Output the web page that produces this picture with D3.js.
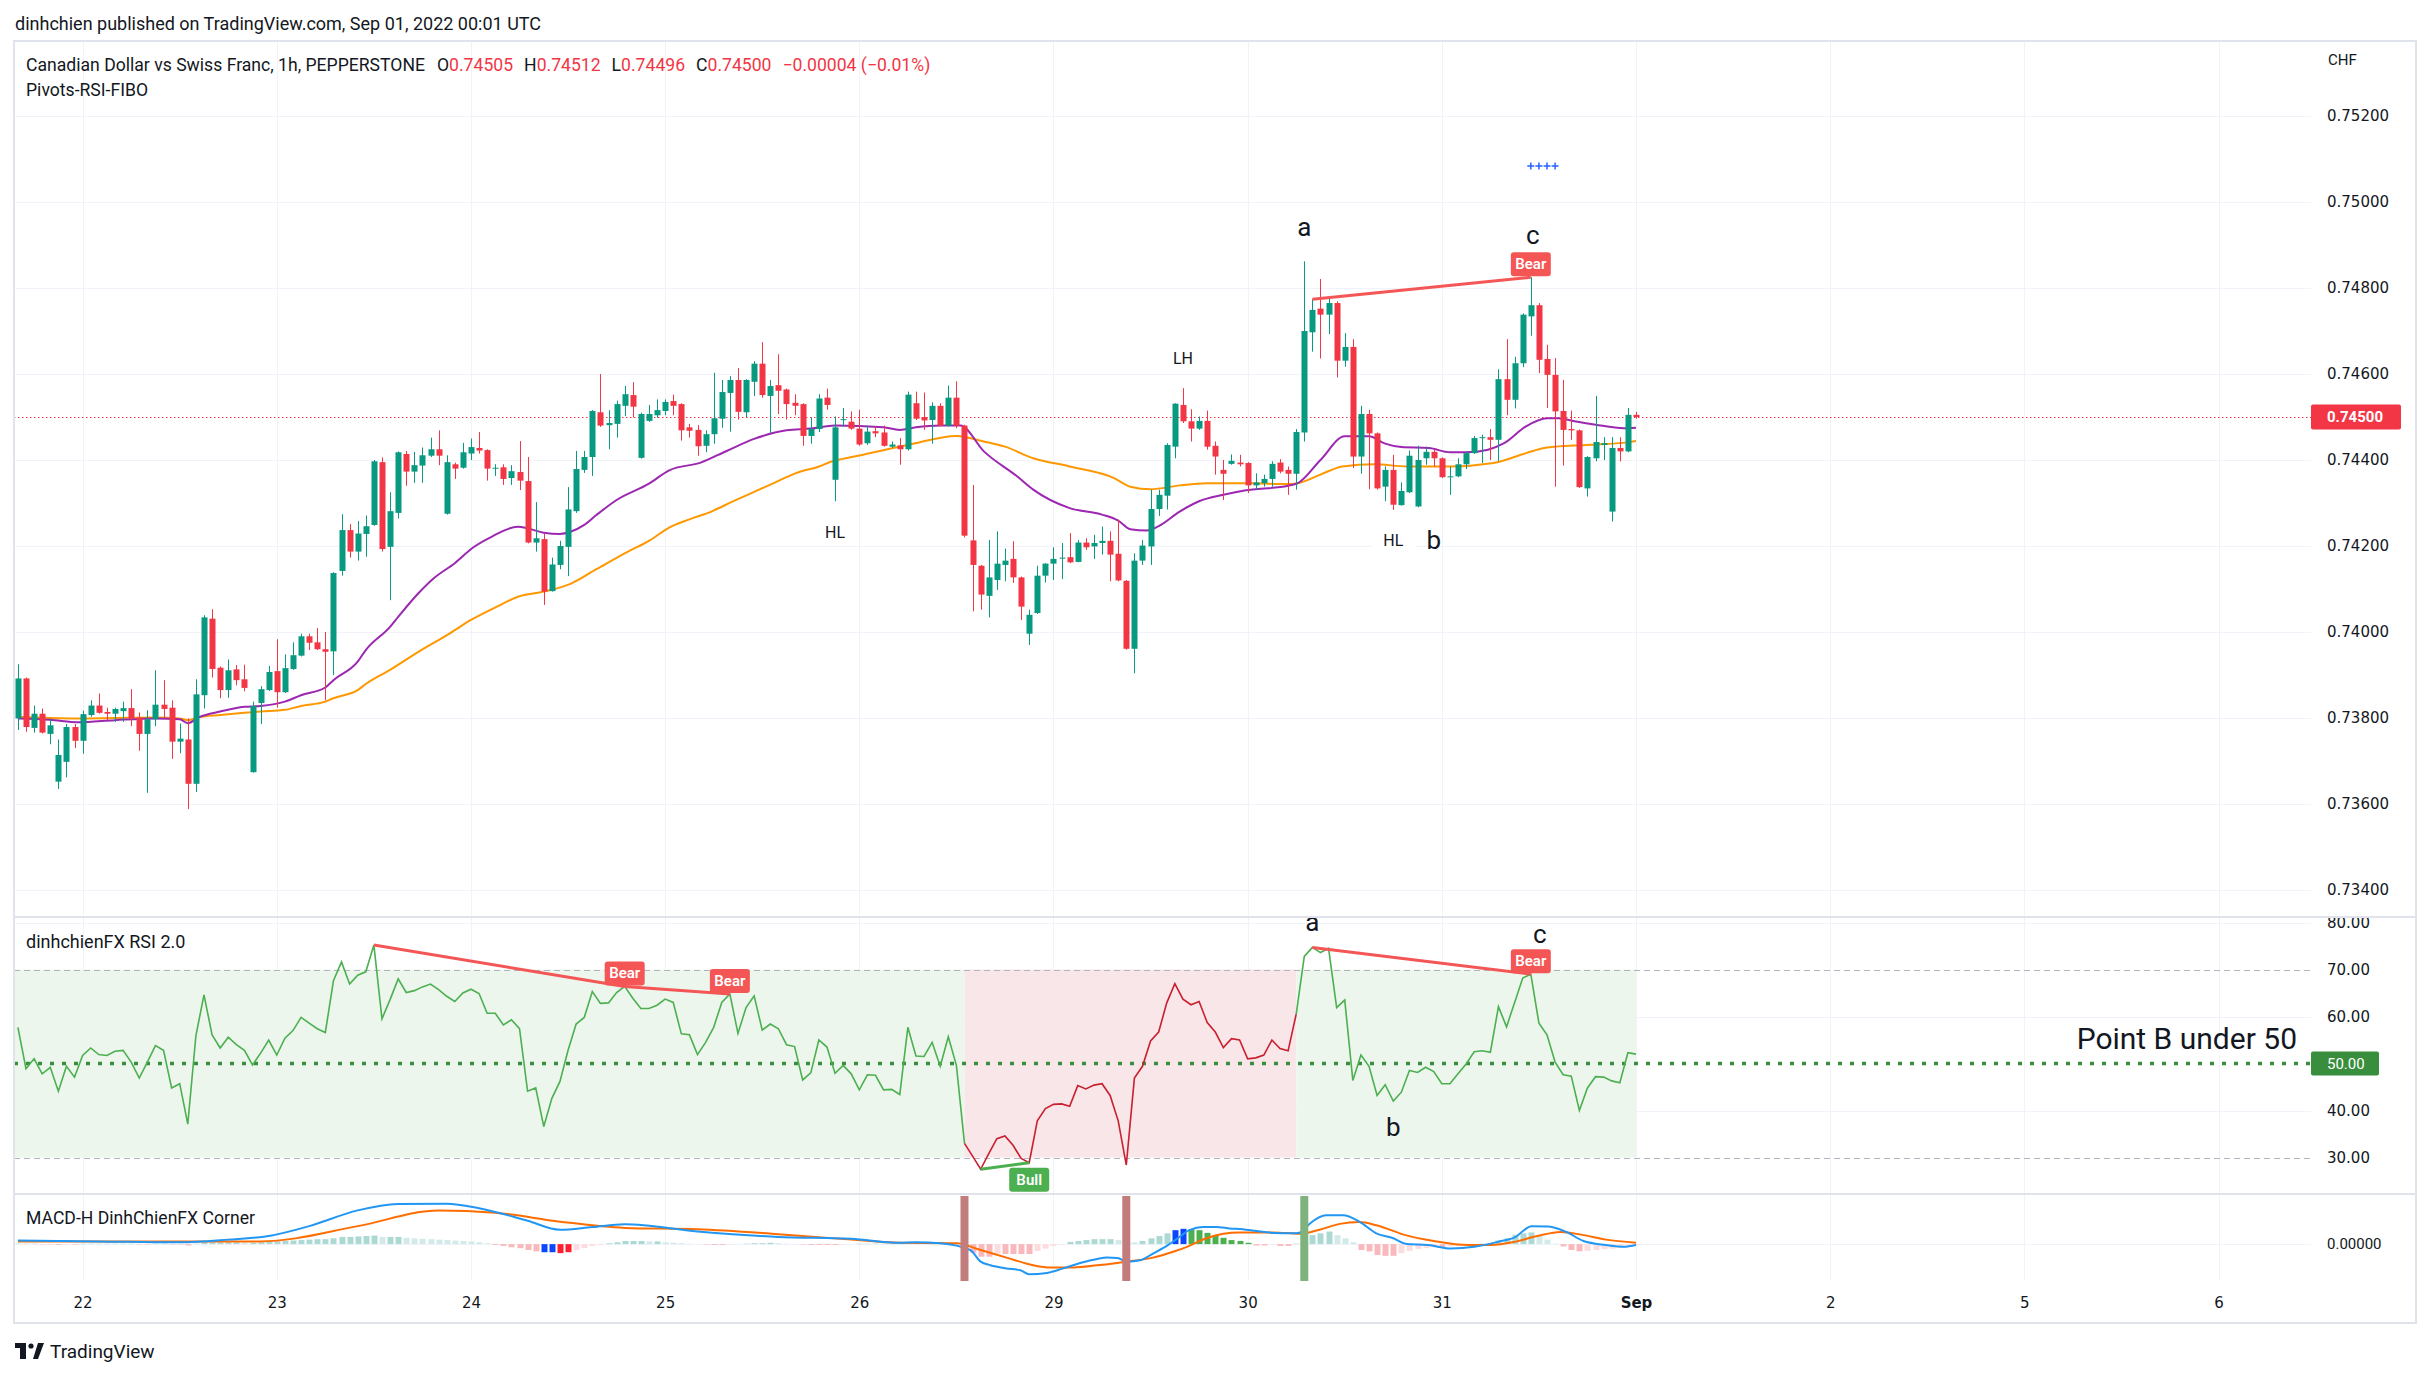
<!DOCTYPE html>
<html>
<head>
<meta charset="utf-8">
<title>CADCHF 1h</title>
<script src="https://cdnjs.cloudflare.com/ajax/libs/d3/7.8.5/d3.min.js"></script>
<style>
  body { margin: 0; background: #fff; }
  text { font-family: Roboto, "Liberation Sans", Arial, sans-serif; fill: #131722; }
  .axis text { font-family: "DejaVu Sans", sans-serif; font-size: 15px; fill: #131722; }
</style>
</head>
<body>
<svg id="chart" width="2432" height="1378"></svg>
<script>
// ---------- data (bar index 0 = first visible hourly bar, 200 = Sep 01 00:00) ----------
// [open, high, low, close]
const ohlc = [
[0.73799,0.73925,0.73772,0.73892],[0.73892,0.73894,0.73768,0.73779],[0.73777,0.73829,0.73766,0.73810],[0.73810,0.73822,0.73764,0.73766],
[0.73763,0.73799,0.73739,0.73783],[0.73652,0.73750,0.73635,0.73714],[0.73698,0.73786,0.73662,0.73779],[0.73779,0.73786,0.73730,0.73747],
[0.73747,0.73817,0.73717,0.73809],[0.73807,0.73841,0.73803,0.73829],[0.73829,0.73857,0.73810,0.73812],[0.73814,0.73824,0.73795,0.73810],
[0.73810,0.73824,0.73791,0.73821],[0.73816,0.73838,0.73791,0.73823],[0.73823,0.73867,0.73781,0.73799],[0.73801,0.73813,0.73724,0.73763],
[0.73763,0.73818,0.73626,0.73797],[0.73797,0.73911,0.73781,0.73831],[0.73831,0.73888,0.73799,0.73821],[0.73824,0.73841,0.73705,0.73745],
[0.73745,0.73787,0.73718,0.73752],[0.73750,0.73799,0.73588,0.73647],[0.73647,0.73890,0.73628,0.73855],[0.73853,0.74039,0.73822,0.74034],
[0.74031,0.74053,0.73894,0.73914],[0.73917,0.73920,0.73846,0.73865],[0.73865,0.73936,0.73847,0.73911],[0.73913,0.73923,0.73876,0.73888],
[0.73890,0.73924,0.73862,0.73870],[0.73674,0.73838,0.73673,0.73828],[0.73835,0.73874,0.73786,0.73867],[0.73865,0.73921,0.73863,0.73907],
[0.73909,0.73983,0.73824,0.73860],[0.73860,0.73948,0.73858,0.73916],[0.73914,0.73976,0.73912,0.73946],[0.73945,0.73996,0.73943,0.73990],
[0.73990,0.73996,0.73958,0.73975],[0.73976,0.74009,0.73958,0.73960],[0.73960,0.74000,0.73841,0.73954],[0.73955,0.74139,0.73900,0.74137],
[0.74142,0.74274,0.74131,0.74237],[0.74237,0.74251,0.74173,0.74187],[0.74187,0.74258,0.74166,0.74229],[0.74228,0.74271,0.74175,0.74246],
[0.74249,0.74400,0.74247,0.74397],[0.74395,0.74406,0.74187,0.74193],[0.74198,0.74325,0.74074,0.74281],[0.74277,0.74420,0.74264,0.74418],
[0.74414,0.74421,0.74340,0.74373],[0.74373,0.74419,0.74347,0.74388],[0.74387,0.74429,0.74347,0.74411],[0.74410,0.74452,0.74407,0.74425],
[0.74425,0.74469,0.74388,0.74410],[0.74275,0.74411,0.74273,0.74395],[0.74390,0.74394,0.74356,0.74380],[0.74382,0.74440,0.74380,0.74418],
[0.74415,0.74450,0.74400,0.74430],[0.74428,0.74465,0.74415,0.74422],[0.74423,0.74425,0.74352,0.74380],[0.74380,0.74390,0.74363,0.74382],
[0.74383,0.74390,0.74342,0.74356],[0.74358,0.74388,0.74342,0.74374],[0.74372,0.74444,0.74330,0.74352],[0.74351,0.74407,0.74206,0.74208],
[0.74208,0.74302,0.74187,0.74218],[0.74216,0.74228,0.74063,0.74094],[0.74095,0.74173,0.74094,0.74157],[0.74156,0.74212,0.74146,0.74200],
[0.74198,0.74337,0.74130,0.74285],[0.74281,0.74421,0.74277,0.74379],[0.74377,0.74421,0.74370,0.74407],[0.74407,0.74516,0.74363,0.74514],
[0.74511,0.74600,0.74477,0.74480],[0.74481,0.74516,0.74425,0.74486],[0.74484,0.74538,0.74452,0.74530],[0.74526,0.74572,0.74502,0.74553],
[0.74551,0.74581,0.74499,0.74524],[0.74405,0.74510,0.74403,0.74507],[0.74491,0.74528,0.74489,0.74507],[0.74504,0.74541,0.74498,0.74516],
[0.74514,0.74541,0.74504,0.74535],[0.74537,0.74552,0.74504,0.74526],[0.74530,0.74532,0.74445,0.74469],[0.74476,0.74484,0.74452,0.74468],
[0.74470,0.74481,0.74410,0.74432],[0.74433,0.74469,0.74418,0.74460],[0.74460,0.74603,0.74438,0.74497],[0.74496,0.74586,0.74475,0.74558],
[0.74556,0.74595,0.74466,0.74586],[0.74586,0.74614,0.74494,0.74512],[0.74511,0.74588,0.74500,0.74586],[0.74582,0.74630,0.74549,0.74624],
[0.74624,0.74674,0.74545,0.74551],[0.74549,0.74586,0.74463,0.74572],[0.74574,0.74646,0.74507,0.74561],[0.74564,0.74566,0.74494,0.74530],
[0.74533,0.74553,0.74504,0.74526],[0.74530,0.74532,0.74433,0.74456],[0.74456,0.74499,0.74438,0.74472],[0.74472,0.74553,0.74465,0.74543],
[0.74545,0.74566,0.74517,0.74528],[0.74354,0.74501,0.74304,0.74476],[0.74493,0.74521,0.74478,0.74495],[0.74489,0.74513,0.74470,0.74473],
[0.74473,0.74517,0.74433,0.74436],[0.74439,0.74480,0.74435,0.74466],[0.74467,0.74478,0.74453,0.74462],[0.74464,0.74480,0.74431,0.74433],
[0.74431,0.74443,0.74428,0.74436],[0.74434,0.74451,0.74389,0.74425],[0.74425,0.74559,0.74422,0.74552],[0.74532,0.74559,0.74493,0.74496],
[0.74500,0.74557,0.74470,0.74492],[0.74493,0.74534,0.74438,0.74526],[0.74526,0.74532,0.74478,0.74480],[0.74480,0.74573,0.74478,0.74545],
[0.74545,0.74583,0.74474,0.74480],[0.74480,0.74482,0.74220,0.74224],[0.74213,0.74342,0.74048,0.74156],[0.74154,0.74156,0.74052,0.74087],
[0.74084,0.74214,0.74034,0.74127],[0.74121,0.74234,0.74098,0.74159],[0.74156,0.74194,0.74118,0.74166],[0.74170,0.74211,0.74114,0.74127],
[0.74127,0.74129,0.74028,0.74059],[0.73996,0.74052,0.73970,0.74040],[0.74044,0.74154,0.74042,0.74131],[0.74131,0.74160,0.74115,0.74159],
[0.74159,0.74197,0.74121,0.74170],[0.74171,0.74207,0.74123,0.74173],[0.74174,0.74230,0.74160,0.74162],[0.74163,0.74214,0.74162,0.74208],
[0.74208,0.74218,0.74191,0.74197],[0.74199,0.74226,0.74170,0.74207],[0.74207,0.74245,0.74180,0.74212],[0.74212,0.74234,0.74118,0.74180],
[0.74182,0.74261,0.74118,0.74120],[0.74119,0.74121,0.73959,0.73961],[0.73961,0.74183,0.73904,0.74166],[0.74166,0.74214,0.74156,0.74201],
[0.74199,0.74331,0.74156,0.74286],[0.74286,0.74331,0.74270,0.74319],[0.74317,0.74439,0.74285,0.74435],[0.74431,0.74532,0.74404,0.74531],
[0.74528,0.74567,0.74486,0.74490],[0.74490,0.74518,0.74443,0.74473],[0.74473,0.74501,0.74470,0.74491],[0.74491,0.74515,0.74424,0.74431],
[0.74433,0.74443,0.74366,0.74408],[0.74377,0.74400,0.74307,0.74368],[0.74391,0.74413,0.74389,0.74398],[0.74394,0.74412,0.74385,0.74390],
[0.74393,0.74395,0.74323,0.74341],[0.74341,0.74369,0.74331,0.74348],[0.74346,0.74366,0.74338,0.74356],[0.74356,0.74397,0.74338,0.74391],
[0.74394,0.74402,0.74369,0.74373],[0.74377,0.74385,0.74319,0.74368],[0.74368,0.74472,0.74331,0.74465],[0.74464,0.74862,0.74443,0.74700],
[0.74697,0.74774,0.74652,0.74749],[0.74752,0.74821,0.74636,0.74738],[0.74738,0.74776,0.74693,0.74765],[0.74765,0.74769,0.74592,0.74631],
[0.74631,0.74695,0.74617,0.74663],[0.74663,0.74681,0.74381,0.74408],[0.74408,0.74526,0.74368,0.74507],[0.74507,0.74517,0.74332,0.74462],
[0.74462,0.74464,0.74331,0.74334],[0.74338,0.74385,0.74304,0.74377],[0.74377,0.74412,0.74284,0.74296],[0.74295,0.74348,0.74294,0.74328],
[0.74325,0.74422,0.74323,0.74410],[0.74292,0.74433,0.74290,0.74400],[0.74404,0.74431,0.74389,0.74419],[0.74419,0.74425,0.74385,0.74404],
[0.74404,0.74406,0.74358,0.74360],[0.74360,0.74385,0.74319,0.74362],[0.74362,0.74404,0.74360,0.74390],[0.74390,0.74420,0.74379,0.74416],
[0.74416,0.74456,0.74414,0.74451],[0.74451,0.74459,0.74393,0.74453],[0.74453,0.74472,0.74400,0.74447],[0.74447,0.74611,0.74397,0.74588],
[0.74588,0.74681,0.74504,0.74540],[0.74540,0.74640,0.74520,0.74625],[0.74625,0.74741,0.74616,0.74738],[0.74734,0.74825,0.74689,0.74760],
[0.74760,0.74765,0.74602,0.74633],[0.74635,0.74668,0.74521,0.74598],[0.74598,0.74637,0.74338,0.74513],[0.74514,0.74586,0.74387,0.74470],
[0.74472,0.74515,0.74447,0.74469],[0.74469,0.74471,0.74335,0.74337],[0.74334,0.74409,0.74315,0.74407],[0.74404,0.74549,0.74397,0.74442],
[0.74435,0.74453,0.74400,0.74439],[0.74280,0.74453,0.74257,0.74428],[0.74428,0.74453,0.74397,0.74420],[0.74420,0.74521,0.74418,0.74505],
[0.74505,0.74512,0.74496,0.74500]
];

// moving averages: [bar, price]
const emaFast = [[0,0.73799],[4,0.73796],[7.5,0.73790],[12,0.73795],[17,0.73799],[20,0.73797],[21,0.73788],[22.4,0.73802],[25,0.73815],[28,0.73826],[30,0.73828],[33,0.73838],[35,0.73853],[38,0.73871],[39,0.73888],[42,0.73931],[43,0.73958],[46,0.74012],[47,0.74035],[49.5,0.74090],[51.4,0.74125],[54,0.74160],[56.3,0.74197],[58.6,0.74222],[61.8,0.74245],[63,0.74241],[65,0.74231],[67,0.74228],[68.3,0.74233],[70,0.74249],[71.5,0.74272],[74,0.74307],[78,0.74345],[80.5,0.74376],[84.4,0.74394],[87.6,0.74421],[91,0.74449],[95,0.74469],[98,0.74473],[101,0.74480],[107,0.74476],[109,0.74470],[111,0.74476],[114,0.74480],[116.5,0.74480],[119.4,0.74420],[123.5,0.74362],[125.5,0.74331],[130,0.74288],[134,0.74273],[136,0.74259],[137.5,0.74239],[139.5,0.74236],[141,0.74246],[143.6,0.74280],[146,0.74304],[149,0.74319],[151.6,0.74329],[157,0.74340],[158.2,0.74346],[161,0.74400],[164,0.74455],[167,0.74455],[169,0.74438],[171,0.74430],[174.4,0.74428],[177,0.74418],[179,0.74418],[181.7,0.74424],[183.7,0.74439],[186.4,0.74478],[189,0.74497],[190.4,0.74497],[192.4,0.74490],[195,0.74482],[198.5,0.74474],[200,0.74475]];
const emaSlow = [[0,0.73803],[4,0.73800],[7.5,0.73799],[12,0.73800],[17,0.73801],[20,0.73799],[21,0.73795],[22.4,0.73802],[25,0.73807],[28,0.73812],[30,0.73815],[33,0.73819],[35,0.73828],[38,0.73838],[39,0.73846],[42,0.73865],[43,0.73879],[46,0.73912],[49.5,0.73954],[53.4,0.73997],[56,0.74028],[59.2,0.74059],[61.8,0.74082],[65,0.74094],[68.3,0.74112],[71.5,0.74146],[75.4,0.74187],[78,0.74212],[80.5,0.74243],[83,0.74262],[85.7,0.74280],[88.3,0.74303],[91,0.74326],[93.5,0.74347],[96.1,0.74369],[99,0.74385],[100.7,0.74397],[103.4,0.74408],[110,0.74435],[116,0.74456],[119.4,0.74443],[122,0.74431],[125.5,0.74404],[130,0.74385],[135.5,0.74358],[137.5,0.74338],[140,0.74332],[143.6,0.74341],[147,0.74346],[152,0.74346],[157,0.74344],[158.2,0.74346],[161,0.74366],[163.7,0.74385],[167.7,0.74390],[171.7,0.74385],[177,0.74385],[182.4,0.74393],[186.4,0.74416],[189,0.74429],[193.8,0.74435],[199,0.74441],[200,0.74444]];

// RSI, one value per bar
const rsi = [57.7,48.9,51.0,47.8,49.2,44.1,49.4,47.1,51.7,53.3,
51.9,51.7,52.6,52.8,50.3,46.9,50.3,53.8,52.8,44.8,
45.7,37.1,55.9,64.6,56.1,53.3,55.6,54.0,52.8,49.7,
52.2,55.0,51.8,55.4,57.0,59.8,58.6,57.4,56.6,67.6,
71.6,66.9,68.8,69.5,75.2,59.5,63.6,68.0,65.1,65.5,
66.3,66.9,65.7,64.3,63.2,65.0,65.8,64.9,60.7,60.7,
58.2,59.3,57.4,44.1,44.8,36.6,42.6,46.2,52.8,58.4,
59.8,65.3,62.8,62.9,65.1,66.4,63.9,61.7,61.7,62.4,
63.7,63.0,56.3,56.1,51.9,54.5,57.7,63.0,64.8,56.4,
61.9,64.4,57.1,58.4,57.4,54.0,53.6,46.5,48.0,55.0,
53.5,47.9,49.6,47.8,44.4,47.6,47.5,44.4,44.5,43.4,
57.7,51.6,51.5,54.5,49.4,55.7,49.6,33.0,30.3,27.5,
30.8,34.0,34.6,32.6,29.8,28.9,37.8,40.4,41.3,41.4,
40.9,45.3,44.6,45.4,45.7,43.2,37.8,28.4,46.9,49.4,
54.8,56.7,62.9,67.0,63.7,62.5,63.2,58.7,56.7,53.4,
55.3,55.0,51.0,51.2,51.8,55.0,53.2,52.7,60.5,72.8,
74.7,73.6,74.5,61.9,63.5,46.4,51.8,49.4,43.2,45.5,
42.0,43.9,48.5,48.1,49.2,48.3,45.7,45.7,47.8,49.9,
52.5,52.7,52.4,62.1,57.8,63.0,68.2,69.0,58.6,56.1,
50.3,47.6,47.3,40.0,44.8,47.2,47.1,46.3,45.9,52.3,
52.0];
// RSI regimes: [fromBar, toBar, kind]
const rsiZones = [[-0.5, 117, "bull"], [117, 158, "bear"], [158, 200, "bull"]];
// divergences: [fromBar, toBar, kind]
const rsiDivergences = [[44, 75, "Bear"], [75, 88, "Bear"], [119, 125, "Bull"], [160, 187, "Bear"]];
const priceDivergences = [[160, 187, "Bear"]];

// MACD in units of 1e-5: [bar, value]
const macdLine = [[0,8],[10,6],[20,4],[26,10],[31,18],[36,40],[42,75],[47,89],[53,90],[57,80],[63,52],[67,32],[71,38],[75,44],[84,28],[94,16],[103,12],[109,3],[111,4],[114,2],[117.7,-13],[119,-39],[120.2,-47],[122.2,-54],[123.9,-58],[125,-67],[127.2,-64],[129.2,-54],[131.3,-42],[133.4,-33],[134.6,-30],[135.9,-31],[137.1,-39],[138.7,-36],[140.3,-21],[142,-4],[143.2,11],[144.8,31],[146.5,38],[148.1,38],[149.8,35],[151.4,33],[153.1,29],[155.2,25],[157.6,24],[158.5,26],[159.7,46],[161.7,64],[163.8,64],[165.8,50],[167.9,24],[170,13],[171.5,1],[174.3,-2],[177.2,-10],[180,-6],[182.9,5],[185,15],[187.1,40],[189.2,39],[191.4,27],[193.5,7],[196.3,-2],[198.5,-6],[200,-2]];
const signalLine = [[0,6],[20,6],[30,6],[42,40],[52,75],[59,70],[67,50],[75,36],[84,33],[94,22],[103,10],[109,3],[116,2],[119,-13],[122.2,-30],[125.5,-47],[127.6,-52],[130.5,-52],[133.4,-47],[137.1,-39],[140.3,-30],[142.8,-17],[144.5,-6],[146.9,13],[149,23],[151,26],[155.2,26],[158.5,23],[160.9,32],[163.4,45],[165.8,49],[167.9,42],[171.5,20],[175,7],[179.3,-2],[182.1,-2],[185,5],[187.8,18],[190.7,27],[193.5,20],[196.3,10],[200,3]];
// histogram, one value per bar (1e-5)
const macdHist = [1,1,1,-1,-1,-2,-1,-1,1,1,1,1,1,1,1,-1,-1,1,1,-1,-1,-3,1,4,4,4,4,4,3,3,
4,6,6,7,8,9,10,11,11,13,16,16,17,18,19,16,16,16,14,13,12,11,10,9,8,7,6,4,2,
-2,-4,-7,-9,-13,-16,-18,-18,-20,-18,-13,-9,
-4,-2,2,4,7,7,7,6,6,4,3,2,1,0,-1,-2,-2,-1,0,1,2,2,3,2,1,0,-1,-2,-2,-2,-2,-1,0,1,1,1,1,1,
1,2,2,2,2,1,1,0,-9,-19,-28,-28,-21,-22,-22,-22,-22,-15,-10,-4,-1,5,7,9,11,11,11,9,7,4,7,13,18,24,31,34,33,31,25,19,14,9,7,3,-3,-3,-1,-4,-4,1,11,20,24,28,20,13,4,-13,-16,-24,-26,-26,-20,-15,-11,-9,-7,-7,-5,-4,-2,-1,1,2,8,13,21,24,26,18,10,1,-5,-13,-16,-15,-13,-11,-10,-5,-3,-2];
const histBlueBars = [65, 66, 143, 144];
const histGreenBars = [145, 146, 147, 148, 149, 150, 151, 152];
const histRedBars = [67, 68];
// MACD corner signals: [bar, kind]
const macdSignals = [[117, "sell"], [137, "sell"], [159, "buy"]];

// pivots and wave marks
const pivotLabels = [[101, "HL", "low"], [144, "LH", "high"], [170, "HL", "low"]];
const plusBars = [187, 188, 189, 190];
const plusLevel = 0.75084;

// axes
const priceTicks = [0.734, 0.736, 0.738, 0.740, 0.742, 0.744, 0.746, 0.748, 0.750, 0.752];
const rsiTicks = [30, 40, 60, 70, 80];
const dayTickBars = [8, 32, 56, 80, 104, 128, 152, 176, 200, 224, 248, 272];
const dayTickLabels = ["22", "23", "24", "25", "26", "29", "30", "31", "Sep", "2", "5", "6"];

function main() {
    var svg = d3.select("svg");
    var UP = "#089981", DOWN = "#f23645";
    var L = 14, R = 2416, plotR = 2311, T = 41, B = 1323;
    var priceTop = T, priceBot = 917, rsiTop = 917, rsiBot = 1194, macdTop = 1194, macdBot = 1281;

    var x = d3.scaleLinear().domain([0, 200]).range([17.9, 1636]);
    var yPrice = d3.scaleLinear().domain([0.734, 0.752]).range([890, 116]);
    var yRsi = d3.scaleLinear().domain([30, 70]).range([1157.5, 969.5]);
    var yMacd = d3.scaleLinear().domain([-82, 107]).range([1281, 1196]);

    svg.append("rect").attr("width", 2432).attr("height", 1378).attr("fill", "#fff");

    var defs = svg.append("defs");
    [["clipPrice", priceTop, priceBot], ["clipRsi", rsiTop, rsiBot], ["clipMacd", macdTop, macdBot]].forEach(function(c) {
        defs.append("clipPath").attr("id", c[0]).append("rect")
            .attr("x", L).attr("y", c[1]).attr("width", plotR - L).attr("height", c[2] - c[1]);
    });

    // grid
    var grid = svg.append("g");
    grid.selectAll(".vg").data(dayTickBars).enter().append("line")
        .attr("x1", function(d) { return Math.round(x(d)) + 0.5; })
        .attr("x2", function(d) { return Math.round(x(d)) + 0.5; })
        .attr("y1", T).attr("y2", macdBot)
        .attr("stroke", "#f0f3fa").attr("stroke-width", 1);
    grid.selectAll(".hg").data(priceTicks).enter().append("line")
        .attr("x1", L).attr("x2", plotR)
        .attr("y1", function(d) { return Math.round(yPrice(d)) + 0.5; })
        .attr("y2", function(d) { return Math.round(yPrice(d)) + 0.5; })
        .attr("stroke", "#f0f3fa");
    grid.selectAll(".rg").data([40, 60, 80]).enter().append("line")
        .attr("x1", L).attr("x2", plotR)
        .attr("y1", function(d) { return Math.round(yRsi(d)) + 0.5; })
        .attr("y2", function(d) { return Math.round(yRsi(d)) + 0.5; })
        .attr("stroke", "#f0f3fa");
    grid.append("line").attr("x1", L).attr("x2", plotR)
        .attr("y1", Math.round(yMacd(0)) + 0.5).attr("y2", Math.round(yMacd(0)) + 0.5)
        .attr("stroke", "#f0f3fa");

    // ---------- price pane ----------
    var pg = svg.append("g").attr("clip-path", "url(#clipPrice)");

    pg.append("line").attr("x1", L).attr("x2", plotR)
        .attr("y1", Math.round(yPrice(ohlc[200][3])) + 0.5).attr("y2", Math.round(yPrice(ohlc[200][3])) + 0.5)
        .attr("stroke", DOWN).attr("stroke-dasharray", "1.5,2.5");

    var maLine = d3.line().x(function(d) { return x(d[0]); }).y(function(d) { return yPrice(d[1]); }).curve(d3.curveMonotoneX);
    pg.append("path").datum(emaSlow).attr("d", maLine).attr("fill", "none").attr("stroke", "#ff9800").attr("stroke-width", 2);
    pg.append("path").datum(emaFast).attr("d", maLine).attr("fill", "none").attr("stroke", "#9c27b0").attr("stroke-width", 2);

    var candleColor = function(d) { return d[3] >= d[0] ? UP : DOWN; };
    pg.selectAll(".wick").data(ohlc).enter().append("line")
        .attr("x1", function(d, i) { return Math.round(x(i)) + 0.5; })
        .attr("x2", function(d, i) { return Math.round(x(i)) + 0.5; })
        .attr("y1", function(d) { return yPrice(d[1]); })
        .attr("y2", function(d) { return yPrice(d[2]); })
        .attr("stroke", candleColor).attr("stroke-width", 1);
    pg.selectAll(".body").data(ohlc).enter().append("rect")
        .attr("x", function(d, i) { return Math.round(x(i)) - 2.5; })
        .attr("width", 6)
        .attr("y", function(d) { return yPrice(Math.max(d[0], d[3])); })
        .attr("height", function(d) { return Math.max(1, Math.abs(yPrice(d[0]) - yPrice(d[3]))); })
        .attr("fill", candleColor);

    // price divergence
    priceDivergences.forEach(function(dv) {
        var a = dv[0], b = dv[1];
        pg.append("line")
            .attr("x1", x(a)).attr("y1", yPrice(ohlc[a][1]))
            .attr("x2", x(b)).attr("y2", yPrice(ohlc[b][1]))
            .attr("stroke", "#f45656").attr("stroke-width", 3);
        tagLabel(pg, x(b), yPrice(ohlc[b][1]) - 13, dv[2], "#f45656");
    });

    // pivots
    pivotLabels.forEach(function(p) {
        var yy = p[2] === "low" ? yPrice(ohlc[p[0]][2]) + 31 : yPrice(ohlc[p[0]][1]) - 30;
        pg.append("rect").attr("x", x(p[0]) - 22).attr("y", yy - 13).attr("width", 44).attr("height", 26).attr("fill", "#fff");
        pg.append("text").attr("x", x(p[0])).attr("y", yy).attr("text-anchor", "middle")
            .attr("dominant-baseline", "central").attr("font-size", "16px").attr("fill", "#434651").text(p[1]);
    });

    // wave letters
    waveText(pg, x(159), yPrice(ohlc[159][1]) - 34, "a");
    waveText(pg, x(175), yPrice(ohlc[170][2]) + 30, "b");
    waveText(pg, x(187) + 2, yPrice(ohlc[187][1]) - 42, "c");

    plusBars.forEach(function(b) {
        var cx = x(b), cy = yPrice(plusLevel);
        pg.append("path").attr("d", "M" + (cx - 3.5) + "," + cy + "H" + (cx + 3.5) + "M" + cx + "," + (cy - 3.5) + "V" + (cy + 3.5))
            .attr("stroke", "#2962ff").attr("stroke-width", 1.5);
    });

    // ---------- RSI pane ----------
    var rg = svg.append("g").attr("clip-path", "url(#clipRsi)");
    rsiZones.forEach(function(z) {
        rg.append("rect").attr("x", x(z[0])).attr("width", x(z[1]) - x(z[0]))
            .attr("y", yRsi(70)).attr("height", yRsi(30) - yRsi(70))
            .attr("fill", z[2] === "bull" ? "#edf6ed" : "#f8e6e8");
    });
    [70, 30].forEach(function(v) {
        rg.append("line").attr("x1", L).attr("x2", plotR)
            .attr("y1", Math.round(yRsi(v)) + 0.5).attr("y2", Math.round(yRsi(v)) + 0.5)
            .attr("stroke", "#b2b5be").attr("stroke-dasharray", "6,4");
    });
    rg.append("line").attr("x1", L).attr("x2", plotR)
        .attr("y1", yRsi(50)).attr("y2", yRsi(50))
        .attr("stroke", "#388e3c").attr("stroke-width", 3.5).attr("stroke-dasharray", "4,8");

    var rsiLine = d3.line().x(function(d) { return x(d); }).y(function(d) { return yRsi(rsi[d]); });
    rsiZones.forEach(function(z) {
        var idx = d3.range(Math.max(0, Math.ceil(z[0])), z[1] + 1);
        rg.append("path").datum(idx).attr("d", rsiLine).attr("fill", "none")
            .attr("stroke", z[2] === "bull" ? "#4caf50" : "#c8202f").attr("stroke-width", 1.6);
    });

    rsiDivergences.forEach(function(dv) {
        var a = dv[0], b = dv[1], col = dv[2] === "Bear" ? "#f45656" : "#4caf50";
        rg.append("line").attr("x1", x(a)).attr("y1", yRsi(rsi[a])).attr("x2", x(b)).attr("y2", yRsi(rsi[b]))
            .attr("stroke", col).attr("stroke-width", 3);
    });
    rsiDivergences.forEach(function(dv) {
        var b = dv[1];
        if (dv[2] === "Bear") tagLabel(rg, x(b), yRsi(rsi[b]) - 13, "Bear", "#f45656");
        else tagLabel(rg, x(b), yRsi(rsi[b]) + 17, "Bull", "#4caf50");
    });
    waveText(svg, x(160), yRsi(rsi[160]) - 25, "a");
    waveText(svg, x(170), yRsi(rsi[170]) + 26, "b");
    waveText(svg, x(187) + 9, yRsi(rsi[187]) - 40, "c");

    svg.append("text").attr("x", 2297).attr("y", yRsi(50) - 15).attr("text-anchor", "end")
        .attr("font-size", "30px").attr("fill", "#2a2e39").text("Point B under 50");

    // ---------- MACD pane ----------
    var mg = svg.append("g").attr("clip-path", "url(#clipMacd)");
    var histColor = function(v, i) {
        if (histBlueBars.indexOf(i) >= 0) return "#0a47ff";
        if (histGreenBars.indexOf(i) >= 0) return "#4caf50";
        if (histRedBars.indexOf(i) >= 0) return "#ff1f2f";
        var prev = i > 0 ? macdHist[i - 1] : v;
        if (v >= 0) return v >= prev ? "#acd9d4" : "#d3ebe8";
        return v <= prev ? "#f9b9bc" : "#fcdcdd";
    };
    mg.selectAll(".hist").data(macdHist).enter().append("rect")
        .attr("x", function(d, i) { return Math.round(x(i)) - 2.5; })
        .attr("width", 6)
        .attr("y", function(d) { return d >= 0 ? yMacd(d) : yMacd(0); })
        .attr("height", function(d) { return Math.abs(yMacd(d) - yMacd(0)); })
        .attr("fill", histColor);
    var mLine = d3.line().x(function(d) { return x(d[0]); }).y(function(d) { return yMacd(d[1]); }).curve(d3.curveMonotoneX);
    mg.append("path").datum(signalLine).attr("d", mLine).attr("fill", "none").attr("stroke", "#ff6d00").attr("stroke-width", 2);
    mg.append("path").datum(macdLine).attr("d", mLine).attr("fill", "none").attr("stroke", "#2196f3").attr("stroke-width", 2);
    mg.selectAll(".sig").data(macdSignals).enter().append("rect")
        .attr("x", function(d) { return x(d[0]) - 4; }).attr("width", 8)
        .attr("y", macdTop + 2).attr("height", macdBot - macdTop - 2)
        .attr("fill", function(d) { return d[1] === "sell" ? "#c27c7b" : "#7fb27d"; });

    // ---------- axes ----------
    var pAxis = svg.append("g").attr("class", "axis").attr("transform", "translate(" + plotR + ",0)")
        .call(d3.axisRight(yPrice).tickValues(priceTicks).tickFormat(d3.format(".5f")).tickSize(0).tickPadding(16));
    pAxis.select(".domain").remove();
    svg.append("text").attr("x", 2328).attr("y", 60).attr("dominant-baseline", "central")
        .attr("font-family", "DejaVu Sans").attr("font-size", "15px").text("CHF");

    var rAxis = svg.append("g").attr("class", "axis").attr("transform", "translate(" + plotR + ",0)")
        .call(d3.axisRight(yRsi).tickValues(rsiTicks).tickFormat(d3.format(".2f")).tickSize(0).tickPadding(16));
    rAxis.select(".domain").remove();

    svg.append("text").attr("x", 2327).attr("y", yMacd(0)).attr("dominant-baseline", "central")
        .attr("font-family", "DejaVu Sans").attr("font-size", "15px").text("0.00000");

    // last price / 50 labels
    var lastY = yPrice(ohlc[200][3]);
    svg.append("rect").attr("x", plotR).attr("y", lastY - 12.5).attr("width", 90).attr("height", 25).attr("rx", 2).attr("fill", DOWN);
    svg.append("text").attr("x", 2327).attr("y", lastY).attr("dominant-baseline", "central")
        .attr("font-family", "DejaVu Sans").attr("font-size", "15px").attr("font-weight", "bold")
        .style("fill", "#fff").text(d3.format(".5f")(ohlc[200][3]));
    svg.append("rect").attr("x", plotR).attr("y", yRsi(50) - 12).attr("width", 68).attr("height", 24).attr("rx", 2).attr("fill", "#388e3c");
    svg.append("text").attr("x", 2327).attr("y", yRsi(50)).attr("dominant-baseline", "central")
        .attr("font-family", "DejaVu Sans").attr("font-size", "15px").style("fill", "#fff").text("50.00");

    var tAxis = svg.append("g").attr("class", "axis").attr("transform", "translate(0,1303)")
        .call(d3.axisBottom(x).tickValues(dayTickBars).tickFormat(function(d, i) { return dayTickLabels[i]; }).tickSize(0));
    tAxis.select(".domain").remove();
    tAxis.selectAll("text").attr("y", 0).attr("dy", "0.35em")
        .attr("font-weight", function(d, i) { return dayTickLabels[i] === "Sep" ? "bold" : null; });

    // ---------- frame ----------
    svg.append("line").attr("x1", L).attr("x2", R).attr("y1", rsiTop).attr("y2", rsiTop).attr("stroke", "#e0e3eb").attr("stroke-width", 2);
    svg.append("line").attr("x1", L).attr("x2", R).attr("y1", macdTop).attr("y2", macdTop).attr("stroke", "#e0e3eb").attr("stroke-width", 2);
    svg.append("rect").attr("x", L).attr("y", T).attr("width", R - L).attr("height", B - T)
        .attr("fill", "none").attr("stroke", "#e0e3eb").attr("stroke-width", 2);

    // ---------- legends ----------
    svg.append("text").attr("x", 15).attr("y", 23).attr("dominant-baseline", "central")
        .attr("font-size", "18px").text("dinhchien published on TradingView.com, Sep 01, 2022 00:01 UTC");
    var fmt = d3.format(".5f");
    var leg = svg.append("text").attr("x", 26).attr("y", 65).attr("dominant-baseline", "central").attr("font-size", "17.6px");
    leg.append("tspan").text("Canadian Dollar vs Swiss Franc, 1h, PEPPERSTONE");
    [["O", 0], ["H", 1], ["L", 2], ["C", 3]].forEach(function(f) {
        leg.append("tspan").attr("dx", f[0] === "O" ? 12 : 11).text(f[0]);
        leg.append("tspan").style("fill", DOWN).text(fmt(ohlc[200][f[1]]));
    });
    leg.append("tspan").attr("dx", 11).style("fill", DOWN).text("\u22120.00004 (\u22120.01%)");
    svg.append("text").attr("x", 26).attr("y", 90).attr("dominant-baseline", "central").attr("font-size", "17.6px").text("Pivots-RSI-FIBO");
    svg.append("text").attr("x", 26).attr("y", 941).attr("dominant-baseline", "central").attr("font-size", "18px").text("dinhchienFX RSI 2.0");
    svg.append("text").attr("x", 26).attr("y", 1218).attr("dominant-baseline", "central").attr("font-size", "17.6px").text("MACD-H DinhChienFX Corner");

    // TradingView mark
    var logo = svg.append("g").attr("fill", "#131722");
    logo.append("rect").attr("x", 15).attr("y", 1343).attr("width", 11).attr("height", 5);
    logo.append("rect").attr("x", 20).attr("y", 1343).attr("width", 6).attr("height", 16);
    logo.append("circle").attr("cx", 31).attr("cy", 1346).attr("r", 2.6);
    logo.append("path").attr("d", "M33,1359 L38,1343 L44,1343 L38,1359 Z");
    svg.append("text").attr("x", 50).attr("y", 1351).attr("dominant-baseline", "central").attr("font-size", "19px").text("TradingView");

    function tagLabel(g, cx, cy, txt, col) {
        g.append("rect").attr("x", cx - 20).attr("y", cy - 12).attr("width", 40).attr("height", 24).attr("rx", 3).attr("fill", col);
        g.append("text").attr("x", cx).attr("y", cy).attr("text-anchor", "middle").attr("dominant-baseline", "central")
            .attr("font-size", "15px").attr("font-weight", "600").style("fill", "#fff").text(txt);
    }
    function waveText(g, cx, cy, txt) {
        g.append("text").attr("x", cx).attr("y", cy).attr("text-anchor", "middle").attr("dominant-baseline", "central")
            .attr("font-size", "26px").attr("fill", "#131722").text(txt);
    }
}
main();
</script>
</body>
</html>
